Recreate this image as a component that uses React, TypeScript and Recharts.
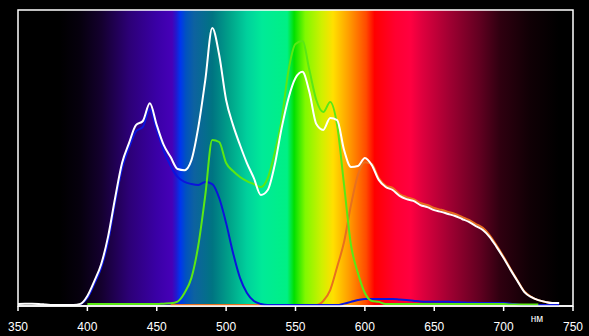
import { LineChart, Line, XAxis, YAxis, ReferenceArea } from 'recharts'

// wavelength, nm (step 5)
const wavelengths = [
  350, 355, 360, 365, 370, 375, 380, 385, 390, 395,
  400, 405, 410, 415, 420, 425, 430, 435, 440, 445,
  450, 455, 460, 465, 470, 475, 480, 485, 490, 495,
  500, 505, 510, 515, 520, 525, 530, 535, 540, 545,
  550, 555, 560, 565, 570, 575, 580, 585, 590, 595,
  600, 605, 610, 615, 620, 625, 630, 635, 640, 645,
  650, 655, 660, 665, 670, 675, 680, 685, 690, 695,
  700, 705, 710, 715, 720, 725, 730, 735, 740,
]

// relative intensity, % of full scale
const white = [
  0.7, 0.8, 0.8, 0.7, 0.5, 0.3, 0.3, 0.3, 0.3, 0.7,
  3.4, 8.4, 14.2, 23.6, 36.5, 48.3, 55.0, 61.1, 62.5, 68.5,
  61.1, 54.4, 50.3, 46.3, 45.9, 49.3, 60.5, 76.4, 93.9, 84.8,
  69.6, 61.1, 54.4, 48.3, 43.2, 37.5, 39.2, 47.6, 60.1, 70.3,
  77.0, 79.1, 72.3, 61.5, 59.5, 63.5, 62.8, 52.7, 47.0, 47.3,
  50.0, 47.6, 42.6, 40.2, 39.2, 37.2, 36.1, 35.5, 34.1, 33.4,
  32.4, 31.8, 31.1, 30.4, 29.4, 28.4, 27.0, 25.7, 23.3, 19.9,
  16.2, 12.2, 8.4, 4.7, 3.0, 2.0, 1.4, 1.0, 1.0,
]

const green = [
  null, null, null, null, null, null, null, null, null, null,
  0.7, 0.7, 0.7, 0.7, 0.7, 0.7, 0.7, 0.7, 0.7, 0.7,
  0.7, 0.8, 0.9, 1.5, 4.4, 9.5, 20.6, 37.5, 56.1, 55.4,
  48.3, 45.6, 43.6, 42.2, 41.2, 40.2, 43.2, 51.7, 62.8, 79.7,
  88.5, 89.5, 79.7, 69.6, 65.5, 68.9, 61.1, 40.9, 20.6, 11.1,
  4.4, 1.7, 1.4, 0.7, 0.7, 0.7, 0.7, 0.7, 0.7, 0.7,
  0.7, 0.7, 0.7, 0.7, 0.7, 0.7, 0.7, 0.7, 0.7, 0.7,
  0.7, 0.5, 0.5, 0.5, 0.5, 0.5, null, null, null,
]

const blue = [
  null, null, null, null, null, null, null, null, null, 0.5,
  2.7, 7.5, 13.0, 22.0, 35.0, 46.5, 53.5, 59.0, 60.5, 66.5,
  59.5, 52.5, 47.3, 43.6, 41.9, 41.2, 40.9, 41.9, 41.2, 36.5,
  28.0, 17.9, 9.5, 4.4, 1.7, 0.7, 0.3, 0.3, 0.3, 0.3,
  0.3, 0.3, 0.3, 0.3, 0.3, 0.3, 0.3, 0.8, 1.4, 2.0,
  2.4, 2.4, 2.4, 2.4, 2.4, 2.2, 2.0, 1.8, 1.5, 1.4,
  1.4, 1.4, 1.4, 1.3, 1.2, 1.1, 1.1, 1.0, 1.0, 1.0,
  1.0, 0.8, 0.5, 0.3, 0.3, 0.3, 0.3, 0.3, 0.3,
]

const red = [
  null, null, null, null, null, null, null, null, null, null,
  null, null, null, null, null, null, null, null, null, null,
  null, null, 0.3, 0.3, 0.3, 0.3, 0.3, 0.3, 0.3, 0.3,
  0.3, 0.3, 0.3, 0.3, 0.3, 0.3, 0.3, 0.3, 0.3, 0.3,
  0.3, 0.3, 0.3, 0.3, 1.7, 5.4, 13.2, 21.6, 34.1, 44.3,
  48.6, 48.0, 43.2, 40.7, 39.9, 37.8, 36.8, 36.1, 34.8, 34.1,
  33.1, 32.5, 31.8, 31.1, 30.1, 29.1, 27.7, 26.4, 23.9, 20.4,
  16.6, 12.5, 8.6, 4.9, 3.1, 2.0, 1.4, 1.0, 1.0,
]

const xTicks = [350, 400, 450, 500, 550, 600, 650, 700, 750]

// background spectrum: [nm, colour]
const spectrum: [number, string][] = [
  [350, '#000000'],
  [380, '#000000'],
  [395, '#06000e'],
  [410, '#14002e'],
  [430, '#2c0076'],
  [450, '#3a00a6'],
  [461, '#4600b8'],
  [464, '#2418cc'],
  [467, '#0036ee'],
  [471, '#0052c0'],
  [477, '#0d62a0'],
  [490, '#007482'],
  [503, '#00a48a'],
  [515, '#00d09c'],
  [526, '#00ea98'],
  [544, '#00f084'],
  [549, '#00e000'],
  [557, '#80f800'],
  [569, '#d0f000'],
  [577, '#ffe000'],
  [588, '#ffa000'],
  [601, '#ff4a00'],
  [607, '#ff0000'],
  [622, '#ff0030'],
  [633, '#ff0040'],
  [641, '#e0003e'],
  [661, '#a00032'],
  [683, '#600020'],
  [697, '#300010'],
  [719, '#100005'],
  [740, '#000000'],
  [750, '#000000'],
]

const data = wavelengths.map((nm, i) => ({
  nm,
  white: white[i],
  green: green[i],
  blue: blue[i],
  red: red[i],
}))

const font = 'Liberation Sans, Arial, sans-serif'

function UnitLabel(props: any) {
  const vb = props.viewBox || {}
  return (
    <text
      x={vb.x + vb.width - 36}
      y={vb.y + 16}
      fill="#ffffff"
      fontSize={10}
      fontFamily={font}
      textAnchor="middle"
    >
      нм
    </text>
  )
}

export default function App() {
  return (
    <div style={{ position: 'fixed', left: 0, top: 0, width: 589, height: 336, background: '#000' }}>
      <LineChart
        width={589}
        height={336}
        data={data}
        margin={{ top: 10, right: 16, left: 18, bottom: 0 }}
      >
        <defs>
          <linearGradient id="spectrum" x1="0" y1="0" x2="1" y2="0">
            {spectrum.map(([nm, c]) => (
              <stop key={nm} offset={(nm - 350) / 400} stopColor={c} />
            ))}
          </linearGradient>
        </defs>
        <XAxis
          dataKey="nm"
          type="number"
          domain={[350, 750]}
          ticks={xTicks}
          height={30}
          stroke="#ffffff"
          strokeWidth={1.5}
          tickSize={5}
          tickMargin={11}
          tick={{ fill: '#ffffff', fontSize: 12, fontFamily: font }}
          label={<UnitLabel />}
        />
        <YAxis hide domain={[0, 100]} />
        <ReferenceArea
          x1={350}
          x2={750}
          y1={0}
          y2={100}
          fill="url(#spectrum)"
          fillOpacity={1}
          stroke="#ffffff"
          strokeWidth={1.5}
          ifOverflow="visible"
        />
        <Line type="monotone" dataKey="red" stroke="#e8701e" strokeWidth={2} dot={false} isAnimationActive={false} />
        <Line type="monotone" dataKey="blue" stroke="#0c14dc" strokeWidth={2} dot={false} isAnimationActive={false} />
        <Line type="monotone" dataKey="green" stroke="#5ae814" strokeWidth={2} dot={false} isAnimationActive={false} />
        <Line type="monotone" dataKey="white" stroke="#ffffff" strokeWidth={2} dot={false} isAnimationActive={false} />
      </LineChart>
    </div>
  )
}
